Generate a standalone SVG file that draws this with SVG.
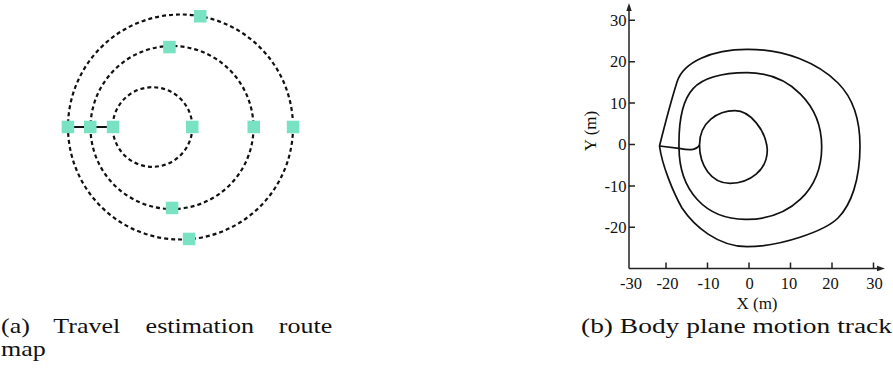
<svg xmlns="http://www.w3.org/2000/svg" width="893" height="382" viewBox="0 0 893 382">
<style>
.route{fill:none;stroke:#111;stroke-width:2.2;stroke-dasharray:4 3}
.link{fill:none;stroke:#111;stroke-width:2}
.sq{fill:#78e2c3}
.axis{fill:none;stroke:#222;stroke-width:1.5}
.trk{fill:none;stroke:#111;stroke-width:1.7;stroke-linejoin:round}
text{font-family:'Liberation Serif','Times New Roman','DejaVu Serif',serif;fill:#111}
.tk{font-size:16.5px}
.lab{font-size:17px}
.cap{font-size:20px}
</style>
<rect width="893" height="382" fill="#fff"/>
<!-- (a) route map -->
<g id="connectors">
<circle class="route" cx="180.5" cy="127" r="112.5"/>
<circle class="route" cx="172" cy="127.5" r="81.5"/>
<circle class="route" cx="152.5" cy="127" r="39.8"/>
<line class="link" x1="68" y1="127" x2="113" y2="127"/>
</g>
<g id="node-outer-top"><rect class="sq" x="194" y="10" width="12.5" height="12.5"/></g>
<g id="node-middle-top"><rect class="sq" x="163.2" y="40.8" width="12.5" height="12.5"/></g>
<g id="node-outer-left"><rect class="sq" x="61.7" y="120.7" width="12.5" height="12.5"/></g>
<g id="node-middle-left"><rect class="sq" x="84" y="120.7" width="12.5" height="12.5"/></g>
<g id="node-inner-left"><rect class="sq" x="106.8" y="120.7" width="12.5" height="12.5"/></g>
<g id="node-inner-right"><rect class="sq" x="186" y="120.7" width="12.5" height="12.5"/></g>
<g id="node-middle-right"><rect class="sq" x="247.5" y="120.7" width="12.5" height="12.5"/></g>
<g id="node-outer-right"><rect class="sq" x="286.8" y="120.7" width="12.5" height="12.5"/></g>
<g id="node-middle-bottom"><rect class="sq" x="165.8" y="201.7" width="12.5" height="12.5"/></g>
<g id="node-outer-bottom"><rect class="sq" x="182.8" y="232.7" width="12.5" height="12.5"/></g>
<!-- (b) motion track -->
<g id="axes">
<path class="axis" d="M629,268.5 V9 M629,268.5 H878"/>
<polygon points="629,3 626.3,11 631.7,11" fill="#222"/>
<polygon points="885,268.5 877,265.8 877,271.2" fill="#222"/>
<path class="axis" d="M666,268.5 v-6 M707.5,268.5 v-6 M749,268.5 v-6 M790.5,268.5 v-6 M832,268.5 v-6 M873.5,268.5 v-6"/>
<path class="axis" d="M629,20.3 h6 M629,61.7 h6 M629,103.1 h6 M629,144.5 h6 M629,185.9 h6 M629,227.3 h6"/>
</g>
<g id="x-labels" class="tk" text-anchor="middle">
<text x="631" y="288.5">-30</text>
<text x="667.5" y="288.5">-20</text>
<text x="708.5" y="288.5">-10</text>
<text x="749.5" y="288.5">0</text>
<text x="789" y="288.5">10</text>
<text x="830.5" y="288.5">20</text>
<text x="874.5" y="288.5">30</text>
</g>
<g id="y-labels" class="tk" text-anchor="end">
<text x="626.5" y="26">30</text>
<text x="626.5" y="67.4">20</text>
<text x="626.5" y="108.8">10</text>
<text x="626.5" y="150.2">0</text>
<text x="626.5" y="191.6">-10</text>
<text x="626.5" y="233">-20</text>
</g>
<text class="lab" x="757" y="309" text-anchor="middle">X (m)</text>
<text class="lab" transform="translate(596,131) rotate(-90)" text-anchor="middle">Y (m)</text>
<g id="track">
<path class="trk" d="M659.5,146 C666,120 672,98 677,82 C683,62 712,49.3 747,49.3 C785,49 818,63 838,83 C850,95 860,115 860,146 C860,180 851,205 838,218 C825,231 780,246.7 747,246.7 C718,246.7 694,226 682,208 C673,192 662,165 659.5,146"/>
<path class="trk" d="M679,147 C678,90 695,73 747,72.7 C790,72.7 821.7,105 821.7,146.7 C821.7,190 790,219.3 747,219.3 C705,220 679,190 679,147 Z"/>
<path class="trk" d="M699.5,145 C699.5,122 718,110.7 735,110.7 C750,110.7 766,130 767.3,150 C767.3,170 750,183.3 730,183.3 C711,183.3 699.5,165 699.5,145 Z"/>
<path class="trk" d="M659.5,146 L679,148.3 C688,150 696,151 699.5,145"/>
</g>
<!-- captions -->
<text class="cap" transform="scale(1.3,1)" y="333"><tspan x="0.77">(a)</tspan><tspan x="41">Travel</tspan><tspan x="112">estimation</tspan><tspan x="214.5">route</tspan></text>
<text class="cap" transform="scale(1.3,1)" x="0.77" y="356">map</text>
<text class="cap" x="581" y="333" textLength="311" lengthAdjust="spacingAndGlyphs">(b) Body plane motion track</text>
</svg>
